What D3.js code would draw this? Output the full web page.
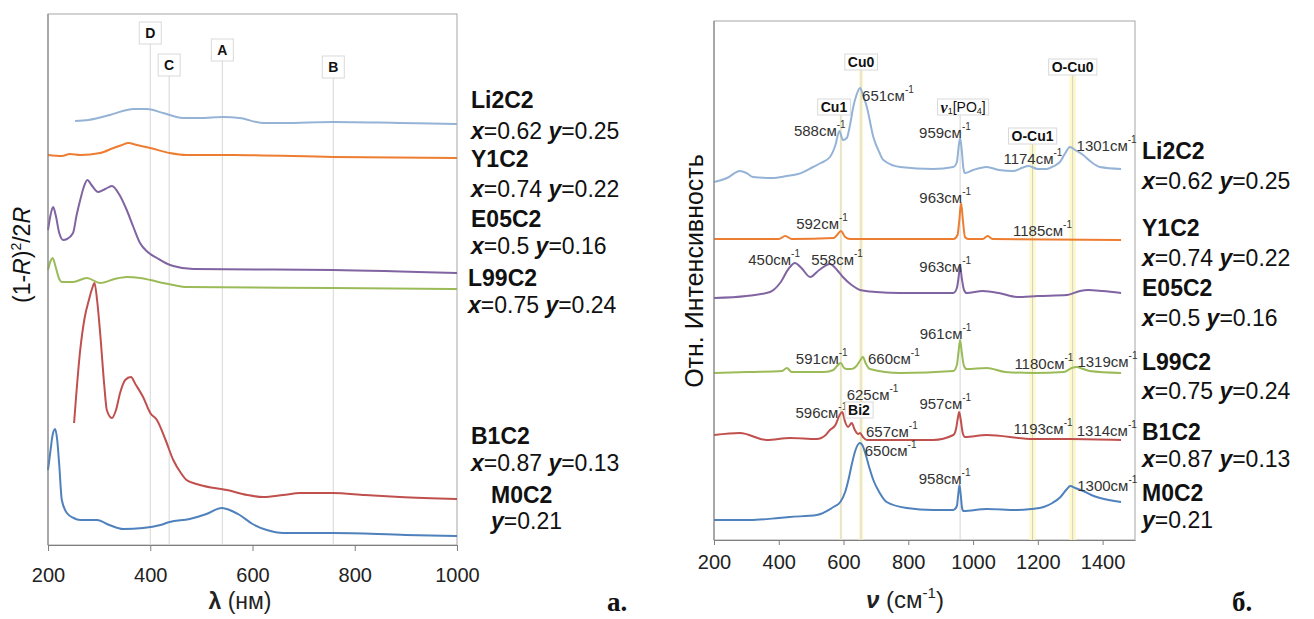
<!DOCTYPE html>
<html>
<head>
<meta charset="utf-8">
<script src="https://cdn.jsdelivr.net/npm/d3@7"></script>
<style>
  body { margin: 0; background: #fff; }
  svg { font-family: "Liberation Sans", Arial, sans-serif; }
</style>
</head>
<body>
<svg id="chart" width="1314" height="619"></svg>
<script>
// ---- data ----
const samples = ["Li2C2", "Y1C2", "E05C2", "L99C2", "B1C2", "M0C2"];
const compX = ["0.62", "0.74", "0.5", "0.75", "0.87", null];
const compY = ["0.25", "0.22", "0.16", "0.24", "0.13", "0.21"];

const lambdaTicks = [200, 400, 600, 800, 1000];
const nuTicks = [200, 400, 600, 800, 1000, 1200, 1400];

// reference lines on the diffuse reflectance panel (nm)
const refLetters = ["D", "C", "A", "B"];
const refLambda = [400, 437, 541, 758];

// highlighted bands on the Raman panel (cm-1)
const bandNames = ["Cu1", "Cu0", "O-Cu1", "O-Cu0"];
const bandRanges = [[588, 596], [648, 660], [1174, 1193], [1297, 1318]];
const po4Nu = 960;

// (1-R)^2/2R, arbitrary units, offset per sample: [lambda nm, value]
const absLi2 = [[253,424],[279,425],[321,430],[354,435],[367,436],[393,436],[425,432],[464,427],[497,427],[542,428],[575,427],[620,422],[660,422],[757,423],[888,422],[1000,421]];
const absY1 = [[200,390],[227,389],[243,391],[263,390],[302,392],[328,397],[345,400],[357,402],[374,400],[400,397],[438,392],[471,390],[562,390],[757,388],[1000,387]];
const absE05 = [[200,315],[205,330],[210,338],[215,330],[222,312],[230,305],[237,306],[249,312],[256,330],[263,345],[270,358],[277,365],[285,360],[298,353],[312,356],[325,359],[340,350],[354,335],[367,318],[380,302],[395,293],[413,287],[430,282],[445,279],[484,276],[757,275],[1000,272]];
const absL99 = [[200,275],[205,284],[209,287],[215,278],[222,266],[227,263],[249,263],[276,267],[302,262],[330,266],[354,268],[380,267],[400,265],[425,262],[445,260],[471,258],[757,257],[1000,256]];
const absB1 = [[251,122],[263,195],[272,228],[280,245],[286,256],[291,262],[296,245],[302,212],[310,160],[315,135],[325,127],[333,135],[341,152],[351,165],[362,168],[372,160],[386,148],[400,132],[413,125],[430,105],[445,85],[460,72],[471,65],[497,60],[550,55],[590,50],[621,48],[660,50],[693,52],[757,52],[820,50],[888,48],[1000,46]];
const absM0 = [[200,75],[205,95],[209,110],[214,116],[218,105],[222,80],[227,45],[237,32],[250,27],[263,25],[296,25],[320,20],[347,16],[386,17],[420,20],[438,23],[477,26],[510,31],[540,37],[560,34],[575,30],[600,21],[628,15],[660,12],[757,12],[900,10],[1000,9]];

// Raman intensity, arbitrary units, offset per sample: [nu cm-1, value]
const ramLi2 = [[200,358],[240,362],[280,369],[300,367],[320,363],[380,362],[425,364],[460,366],[506,373],[530,377],[558,383],[575,395],[587,409],[598,400],[610,402],[620,415],[630,433],[640,445],[651,452],[660,445],[672,433],[692,403],[710,388],[723,380],[775,373],[877,371],[939,373],[950,378],[955,392],[960,402],[965,390],[970,372],[975,367],[1000,370],[1042,373],[1080,370],[1124,369],[1150,372],[1171,374],[1200,371],[1227,371],[1250,374],[1268,378],[1285,387],[1299,393],[1315,390],[1340,385],[1365,378],[1392,373],[1457,371]];
const ramY1 = [[200,301],[400,301],[420,304],[440,301],[570,302],[585,307],[592,309],[605,303],[620,301],[940,301],[952,305],[957,318],[963,337],[969,318],[975,303],[985,301],[1030,301],[1045,304],[1060,301],[1457,300]];
const ramE05 = [[200,242],[300,244],[373,248],[404,257],[430,271],[450,277],[470,272],[497,263],[525,270],[558,276],[580,270],[598,263],[625,255],[651,250],[700,248],[775,247],[939,247],[950,252],[955,262],[960,274],[965,262],[972,250],[980,247],[1030,249],[1080,247],[1135,243],[1200,244],[1290,245],[1330,249],[1355,250],[1400,249],[1457,247]];
const ramL99 = [[200,167],[311,168],[410,169],[425,172],[440,168],[540,168],[569,170],[580,174],[591,177],[602,172],[610,171],[625,171],[640,174],[652,180],[660,183],[668,177],[681,171],[775,167],[939,169],[950,175],[955,188],[960,200],[965,188],[972,174],[980,171],[1042,172],[1100,168],[1186,167],[1280,168],[1305,172],[1319,173],[1340,171],[1360,169],[1457,167]];
const ramB1 = [[200,105],[280,107],[363,100],[435,102],[517,101],[545,105],[558,110],[575,115],[588,125],[596,128],[605,118],[614,113],[625,117],[635,110],[645,106],[651,107],[660,103],[672,100],[877,100],[939,105],[948,112],[953,122],[957,128],[962,120],[968,107],[975,103],[1042,105],[1186,101],[1299,101],[1457,100]];
const ramM0 = [[200,20],[311,20],[400,22],[434,23],[517,25],[569,33],[590,38],[605,48],[615,60],[625,75],[637,90],[650,97],[658,95],[667,87],[680,72],[692,60],[710,48],[733,38],[795,32],[877,30],[939,30],[950,34],[954,45],[958,55],[962,45],[966,32],[970,29],[1042,31],[1135,30],[1180,31],[1218,33],[1245,37],[1270,43],[1290,51],[1300,54],[1315,52],[1340,49],[1365,45],[1392,42],[1457,38]];

// labelled Raman peaks per sample (cm-1)
const peaksLi2 = [588, 651, 959, 1174, 1301];
const peaksY1 = [592, 963, 1185];
const peaksE05 = [450, 558, 963];
const peaksL99 = [591, 660, 961, 1180, 1319];
const peaksB1 = [596, 625, 657, 957, 1193, 1314];
const peaksM0 = [650, 958, 1300];

// ---- layout ----
const colors = ["#95b3d7", "#ed7d31", "#8064a2", "#9bbb59", "#c0504d", "#4f81bd"];
const absSeries = [absLi2, absY1, absE05, absL99, absB1, absM0];
const ramSeries = [ramLi2, ramY1, ramE05, ramL99, ramB1, ramM0];
const peakSets = [peaksLi2, peaksY1, peaksE05, peaksL99, peaksB1, peaksM0];
// [anchor, dx, dy] for each peak label, same order as peakSets
const peakLayout = [
  [["end",6,-2],["start",2,7],["end",11,-8],["end",33,-8],["start",6,-2]],
  [["end",7,-8],["end",10,-6],["end",39,-9]],
  [["end",5,-4],["end",33,-5],["end",10,-7]],
  [["end",7,-5],["start",5,1],["end",11,-9],["end",42,-10],["start",1,-6]],
  [["end",5,0],["start",-5,-29],["start",4,-5],["end",12,-9],["end",37,-11],["start",2,-9]],
  [["start",5,7],["end",11,-7],["start",7,-1]]
];
const refBoxY = [33, 65, 50, 67];
const bandBoxY = [107, 62, 136, 67];
const bandBoxDx = [-7, 0, 0, 0];
const leftLabelX = [471, 471, 471, 468, 471, 491];
const leftNameY = [100, 159, 219, 278, 436, 495];
const leftCompY = [131, 189, 246, 305, 463, 521];
const rightNameY = [151, 228, 288, 362, 432, 493];
const rightCompY = [181, 258, 318, 391, 459, 520];

const svg = d3.select("#chart");

function boxLabel(g, x, y, build, size) {
  const t = g.append("text").attr("x", x).attr("y", y)
    .attr("text-anchor", "middle").attr("dominant-baseline", "central")
    .attr("font-size", size).attr("font-weight", "bold").attr("fill", "#111");
  build(t);
  const bb = t.node().getBBox();
  g.insert("rect", "text").attr("x", bb.x - 3).attr("y", y - 8)
    .attr("width", bb.width + 6).attr("height", 16)
    .attr("fill", "#fff").attr("stroke", "#d9d9d9");
}

function interp(series, v) {
  for (let i = 1; i < series.length; i++) {
    if (series[i][0] >= v) {
      const [a0, b0] = series[i - 1], [a1, b1] = series[i];
      return b0 + (b1 - b0) * (v - a0) / (a1 - a0);
    }
  }
  return series[series.length - 1][1];
}

function compLine(g, x, y, i) {
  const t = g.append("text").attr("x", x).attr("y", y)
    .attr("dominant-baseline", "central").attr("font-size", 23).attr("fill", "#111");
  if (compX[i] !== null) {
    t.append("tspan").attr("font-weight", "bold").attr("font-style", "italic").text("x");
    t.append("tspan").text("=" + compX[i] + " ");
  }
  t.append("tspan").attr("font-weight", "bold").attr("font-style", "italic").text("y");
  t.append("tspan").text("=" + compY[i]);
}

// ================= panel a: diffuse reflectance =================
const xL = d3.scaleLinear().domain([200, 1000]).range([48, 457]);
const yL = d3.scaleLinear().domain([0, 531]).range([545, 14]);
const gA = svg.append("g");

gA.append("rect").attr("x", 48).attr("y", 14).attr("width", 409).attr("height", 531)
  .attr("fill", "none").attr("stroke", "#a6a6a6");

// reference lines with letter boxes
refLetters.forEach((l, i) => {
  const x = xL(refLambda[i]);
  gA.append("line").attr("x1", x).attr("x2", x).attr("y1", refBoxY[i] + 11).attr("y2", 545)
    .attr("stroke", "#d6d6d6");
  gA.append("text").attr("x", x).attr("y", refBoxY[i])
    .attr("text-anchor", "middle").attr("dominant-baseline", "central")
    .attr("font-size", 14).attr("font-weight", "bold").attr("fill", "#111").text(l);
  gA.insert("rect", "text").attr("x", x - 11).attr("y", refBoxY[i] - 11)
    .attr("width", 22).attr("height", 22).attr("fill", "#fff").attr("stroke", "#d9d9d9");
});

const lineL = d3.line().x(d => xL(d[0])).y(d => yL(d[1])).curve(d3.curveMonotoneX);
absSeries.forEach((s, i) => {
  gA.append("path").datum(s).attr("d", lineL).attr("fill", "none")
    .attr("stroke", colors[i]).attr("stroke-width", 2);
});

gA.append("line").attr("x1", 48).attr("x2", 48).attr("y1", 14).attr("y2", 545).attr("stroke", "#7f7f7f");
const axA = gA.append("g").attr("transform", "translate(0,545)")
  .call(d3.axisBottom(xL).tickValues(lambdaTicks).tickFormat(d3.format("d"))
    .tickSize(6).tickSizeOuter(0).tickPadding(17));
axA.select(".domain").attr("stroke", "#7f7f7f");
axA.selectAll(".tick line").attr("stroke", "#7f7f7f");
axA.selectAll(".tick text").attr("font-size", 20).attr("fill", "#222")
  .attr("font-family", "Liberation Sans, Arial, sans-serif");

const xtA = gA.append("text").attr("x", 240).attr("y", 609).attr("text-anchor", "middle")
  .attr("font-size", 23).attr("fill", "#222");
xtA.append("tspan").attr("font-weight", "bold").text("λ");
xtA.append("tspan").text(" (нм)");

const ytA = gA.append("text").attr("transform", "translate(30,255) rotate(-90)")
  .attr("text-anchor", "middle").attr("font-size", 23).attr("fill", "#111");
ytA.append("tspan").text("(1-");
ytA.append("tspan").attr("font-style", "italic").text("R");
ytA.append("tspan").text(")");
ytA.append("tspan").attr("font-size", 14).attr("dy", -9).text("2");
ytA.append("tspan").attr("dy", 9).text("/2");
ytA.append("tspan").attr("font-style", "italic").text("R");

samples.forEach((s, i) => {
  gA.append("text").attr("x", leftLabelX[i]).attr("y", leftNameY[i])
    .attr("dominant-baseline", "central").attr("font-size", 23).attr("font-weight", "bold")
    .attr("fill", "#111").text(s);
  compLine(gA, leftLabelX[i], leftCompY[i], i);
});

gA.append("text").attr("x", 607).attr("y", 611).attr("font-family", "Liberation Serif, serif")
  .attr("font-weight", "bold").attr("font-size", 27).attr("fill", "#111").text("а.");

// ================= panel б: Raman =================
const xR = d3.scaleLinear().domain([200, 1500]).range([714, 1135]);
const yR = d3.scaleLinear().domain([0, 519]).range([540, 21]);
const gB = svg.append("g");

gB.append("rect").attr("x", 714).attr("y", 21).attr("width", 421).attr("height", 519)
  .attr("fill", "none").attr("stroke", "#a6a6a6");

// bands
bandNames.forEach((n, i) => {
  const [a, b] = bandRanges[i];
  const top = bandBoxY[i] + 8;
  gB.append("rect").attr("x", xR(a)).attr("y", top).attr("width", xR(b) - xR(a))
    .attr("height", 540 - top).attr("fill", "#fdf8c4").attr("opacity", 0.85);
  gB.append("line").attr("x1", xR((a + b) / 2)).attr("x2", xR((a + b) / 2))
    .attr("y1", top).attr("y2", 540).attr("stroke", "#c8c8c8").attr("stroke-width", 0.8);
});
gB.append("line").attr("x1", xR(po4Nu)).attr("x2", xR(po4Nu)).attr("y1", 115).attr("y2", 540)
  .attr("stroke", "#c8c8c8").attr("stroke-width", 0.8);

const lineR = d3.line().x(d => xR(d[0])).y(d => yR(d[1])).curve(d3.curveMonotoneX);
ramSeries.forEach((s, i) => {
  gB.append("path").datum(s).attr("d", lineR).attr("fill", "none")
    .attr("stroke", colors[i]).attr("stroke-width", 2);
});

// band label boxes
bandNames.forEach((n, i) => {
  const [a, b] = bandRanges[i];
  boxLabel(gB.append("g"), xR((a + b) / 2) + bandBoxDx[i], bandBoxY[i], t => t.text(n), 14);
});
boxLabel(gB.append("g"), xR(po4Nu) + 3, 107, t => {
  t.attr("font-weight", "normal");
  t.append("tspan").attr("font-family", "Liberation Serif, serif").attr("font-style", "italic")
    .attr("font-weight", "bold").attr("font-size", 16).text("ν");
  t.append("tspan").attr("font-size", 9).attr("dy", 4).text("1");
  t.append("tspan").attr("dy", -4).text("[PO");
  t.append("tspan").attr("font-size", 9).attr("dy", 4).text("4");
  t.append("tspan").attr("dy", -4).text("]");
}, 14);

// peak labels
peakSets.forEach((peaks, si) => {
  peaks.forEach((nu, pi) => {
    const [anchor, dx, dy] = peakLayout[si][pi];
    const t = gB.append("text").attr("x", xR(nu) + dx).attr("y", yR(interp(ramSeries[si], nu)) + dy)
      .attr("text-anchor", anchor).attr("dominant-baseline", "central")
      .attr("font-size", 15).attr("fill", "#333");
    t.append("tspan").text(nu + "см");
    t.append("tspan").attr("font-size", 10).attr("dy", -6).text("-1");
  });
});

boxLabel(gB.append("g"), 859, 410, t => t.text("Bi2"), 14);

gB.append("line").attr("x1", 714).attr("x2", 714).attr("y1", 21).attr("y2", 540).attr("stroke", "#7f7f7f");
const axB = gB.append("g").attr("transform", "translate(0,540)")
  .call(d3.axisBottom(xR).tickValues(nuTicks).tickFormat(d3.format("d"))
    .tickSize(5).tickSizeOuter(0).tickPadding(10));
axB.select(".domain").attr("stroke", "#7f7f7f");
axB.selectAll(".tick line").attr("stroke", "#7f7f7f");
axB.selectAll(".tick text").attr("font-size", 20).attr("fill", "#222")
  .attr("font-family", "Liberation Sans, Arial, sans-serif");

const xtB = gB.append("text").attr("x", 905).attr("y", 608).attr("text-anchor", "middle")
  .attr("font-size", 24).attr("fill", "#222");
xtB.append("tspan").attr("font-weight", "bold").attr("font-style", "italic").text("ν");
xtB.append("tspan").text(" (см");
xtB.append("tspan").attr("font-size", 15).attr("dy", -10).text("-1");
xtB.append("tspan").attr("dy", 10).text(")");

gB.append("text").attr("transform", "translate(703,271) rotate(-90)")
  .attr("text-anchor", "middle").attr("font-size", 25).attr("fill", "#111")
  .text("Отн. Интенсивность");

samples.forEach((s, i) => {
  gB.append("text").attr("x", 1142).attr("y", rightNameY[i])
    .attr("dominant-baseline", "central").attr("font-size", 23).attr("font-weight", "bold")
    .attr("fill", "#111").text(s);
  compLine(gB, 1142, rightCompY[i], i);
});

gB.append("text").attr("x", 1232).attr("y", 611).attr("font-family", "Liberation Serif, serif")
  .attr("font-weight", "bold").attr("font-size", 27).attr("fill", "#111").text("б.");
</script>
</body>
</html>
